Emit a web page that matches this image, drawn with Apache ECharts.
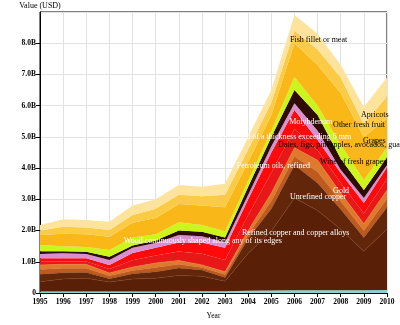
<!DOCTYPE html>
<html><head><meta charset="utf-8">
<script src="https://cdn.jsdelivr.net/npm/echarts@6/dist/echarts.min.js"></script>
<style>html,body{margin:0;padding:0;background:#fff}#c{width:400px;height:325px}</style>
</head><body><div id="c"></div>
<script>
// ---- data (billions USD) ----
const years = ["1995","1996","1997","1998","1999","2000","2001","2002","2003","2004","2005","2006","2007","2008","2009","2010"];
const otherGoods      = [0.05,0.05,0.05,0.05,0.05,0.05,0.06,0.06,0.06,0.07,0.08,0.09,0.09,0.09,0.09,0.10];
const refinedCopper   = [0.31,0.40,0.42,0.30,0.40,0.42,0.50,0.48,0.32,1.20,1.90,2.95,2.55,1.95,1.25,1.95];
const unrefinedCopper = [0.24,0.20,0.19,0.11,0.17,0.21,0.24,0.20,0.12,0.48,0.72,1.06,0.88,0.64,0.44,0.70];
const gold            = [0.15,0.14,0.13,0.09,0.10,0.14,0.12,0.08,0.09,0.12,0.25,0.27,0.36,0.26,0.22,0.27];
const petroleumOils   = [0.15,0.13,0.13,0.09,0.11,0.14,0.12,0.08,0.09,0.13,0.25,0.28,0.37,0.26,0.22,0.28];
const woodShaped      = [0.10,0.09,0.09,0.13,0.22,0.24,0.29,0.36,0.38,0.50,0.65,0.60,0.32,0.32,0.33,0.36];
const woodSawn        = [0.11,0.10,0.10,0.13,0.23,0.25,0.29,0.36,0.39,0.50,0.65,0.61,0.33,0.32,0.33,0.37];
const wine            = [0.14,0.16,0.14,0.16,0.17,0.15,0.24,0.20,0.17,0.15,0.20,0.22,0.30,0.11,0.16,0.07];
const molybdenum      = [0.09,0.07,0.07,0.10,0.07,0.08,0.14,0.14,0.16,0.25,0.30,0.42,0.50,0.35,0.26,0.25];
const dates           = [0.20,0.16,0.15,0.22,0.26,0.20,0.27,0.22,0.20,0.20,0.20,0.42,0.30,0.45,0.32,0.32];
const grapes          = [0.32,0.40,0.41,0.42,0.47,0.52,0.58,0.62,0.77,0.60,0.50,1.08,1.30,1.65,1.38,0.93];
const otherFruit      = [0.14,0.22,0.22,0.22,0.25,0.30,0.30,0.30,0.40,0.40,0.40,0.40,0.50,0.50,0.40,0.70];
const fishFillet      = [0.18,0.24,0.24,0.26,0.30,0.30,0.31,0.30,0.35,0.40,0.40,0.50,0.50,0.40,0.56,0.60];
const yTicks = [0,1,2,3,4,5,6,7,8,9];

// label anchors in data space [year, value]
const labelTexts  = ["Fish fillet or meat","Apricots","Molybdenum","Other fresh fruit","Wood sawn or chipped of a thickness exceeding 6 mm","Grapes","Dates, figs, pineapples, avocados, guavas","Wine of fresh grapes","Petroleum oils, refined","Gold","Unrefined copper","Refined copper and copper alloys","Wood continuously shaped along any of its edges"];
const labelYears  = [2005.81,2008.88,2005.77,2007.67,2008.45,2008.96,2005.29,2007.10,2006.67,2007.67,2005.81,2003.73,1998.62];
const labelValues = [8.10,5.70,5.48,5.38,5.00,4.87,4.74,4.20,4.07,3.27,3.07,1.92,1.67];
const labelColors = ["#000","#000","#fff","#000","#fff","#000","#000","#000","#fff","#fff","#fff","#fff","#fff"];
const labelAligns = ["left","left","left","left","right","left","left","left","right","left","left","left","left"];

const layers = [
  ["Other", otherGoods, "#86d3d3", "#86d3d3", 0],
  ["Refined copper and copper alloys", refinedCopper, "#5a2007", "#7a3a1c", 0.6],
  ["Unrefined copper", unrefinedCopper, "#62260b", "#8a4a26", 0.6],
  ["Gold", gold, "#bf5a1e", "#c86a30", 0.5],
  ["Petroleum oils, refined", petroleumOils, "#df7a2c", "#e88a3c", 0.5],
  ["Wood continuously shaped along any of its edges", woodShaped, "#e81818", "#e81818", 0],
  ["Wood sawn or chipped", woodSawn, "#ff0a0a", "#ff0a0a", 0],
  ["Wine of fresh grapes", wine, "#d98fd0", "#d98fd0", 0],
  ["Molybdenum", molybdenum, "#2e0b03", "#2e0b03", 0],
  ["Dates, figs, pineapples, avocados, guavas", dates, "#ccf51c", "#ccf51c", 0],
  ["Grapes", grapes, "#f9b817", "#f9b817", 0],
  ["Other fresh fruit", otherFruit, "#fccb45", "#fccb45", 0],
  ["Fish fillet or meat", fishFillet, "#fde39c", "#fde39c", 0]
];

const FONT = "'Liberation Serif', 'Times New Roman', serif";
const chart = echarts.init(document.getElementById('c'), null, {renderer: 'canvas'});
chart.setOption({
  animation: false,
  backgroundColor: '#fff',
  grid: {left: 40, right: 13, top: 12, bottom: 32, show: true, borderColor: '#000', borderWidth: 1, backgroundColor: 'transparent'},
  xAxis: {
    type: 'category', data: years, boundaryGap: false,
    name: 'Year', nameLocation: 'middle', nameGap: 19,
    nameTextStyle: {fontFamily: FONT, fontSize: 7.5, color: '#000'},
    axisLine: {show: true, lineStyle: {color: '#000', width: 1}},
    axisTick: {show: true, length: 4, interval: 0, lineStyle: {color: '#000'}},
    axisLabel: {fontFamily: FONT, fontSize: 7.5, fontWeight: 'bold', color: '#000', margin: 5, interval: 0},
    splitLine: {show: true, interval: 0, lineStyle: {color: '#e2e2e2', width: 1}}
  },
  yAxis: {
    type: 'value', min: yTicks[0], max: yTicks[yTicks.length - 1], interval: 1,
    name: 'Value (USD)', nameLocation: 'end', nameGap: 2,
    nameTextStyle: {fontFamily: FONT, fontSize: 8, color: '#000', align: 'center'},
    axisLine: {show: true, lineStyle: {color: '#000', width: 1}},
    axisTick: {show: true, length: 4, lineStyle: {color: '#000'}},
    axisLabel: {fontFamily: FONT, fontSize: 7.5, fontWeight: 'bold', color: '#000', margin: 4, showMaxLabel: false,
      formatter: v => v === 0 ? '0' : v.toFixed(1) + 'B'},
    splitLine: {show: true, lineStyle: {color: '#e2e2e2', width: 1}}
  },
  series: layers.map(l => ({
    name: l[0], type: 'line', stack: 'total', showSymbol: false, symbol: 'none',
    data: l[1],
    lineStyle: {width: l[4], color: l[3]},
    areaStyle: {color: l[2], opacity: 1},
    itemStyle: {color: l[2]}
  }))
});

function yearToX(yr) {
  const f = yr - Number(years[0]);
  const i0 = Math.max(0, Math.min(years.length - 2, Math.floor(f)));
  const x0 = chart.convertToPixel({xAxisIndex: 0}, years[i0]);
  const x1 = chart.convertToPixel({xAxisIndex: 0}, years[i0 + 1]);
  return x0 + (x1 - x0) * (f - i0);
}
const g = labelTexts.map((t, i) => {
  const px = yearToX(labelYears[i]);
  const py = chart.convertToPixel({yAxisIndex: 0}, labelValues[i]);
  return {type: 'text', x: px, y: py, z: 100,
    style: {text: t, fill: labelColors[i], font: '8px ' + FONT, align: labelAligns[i], verticalAlign: 'middle'}};
});
chart.setOption({graphic: g});
</script></body></html>
